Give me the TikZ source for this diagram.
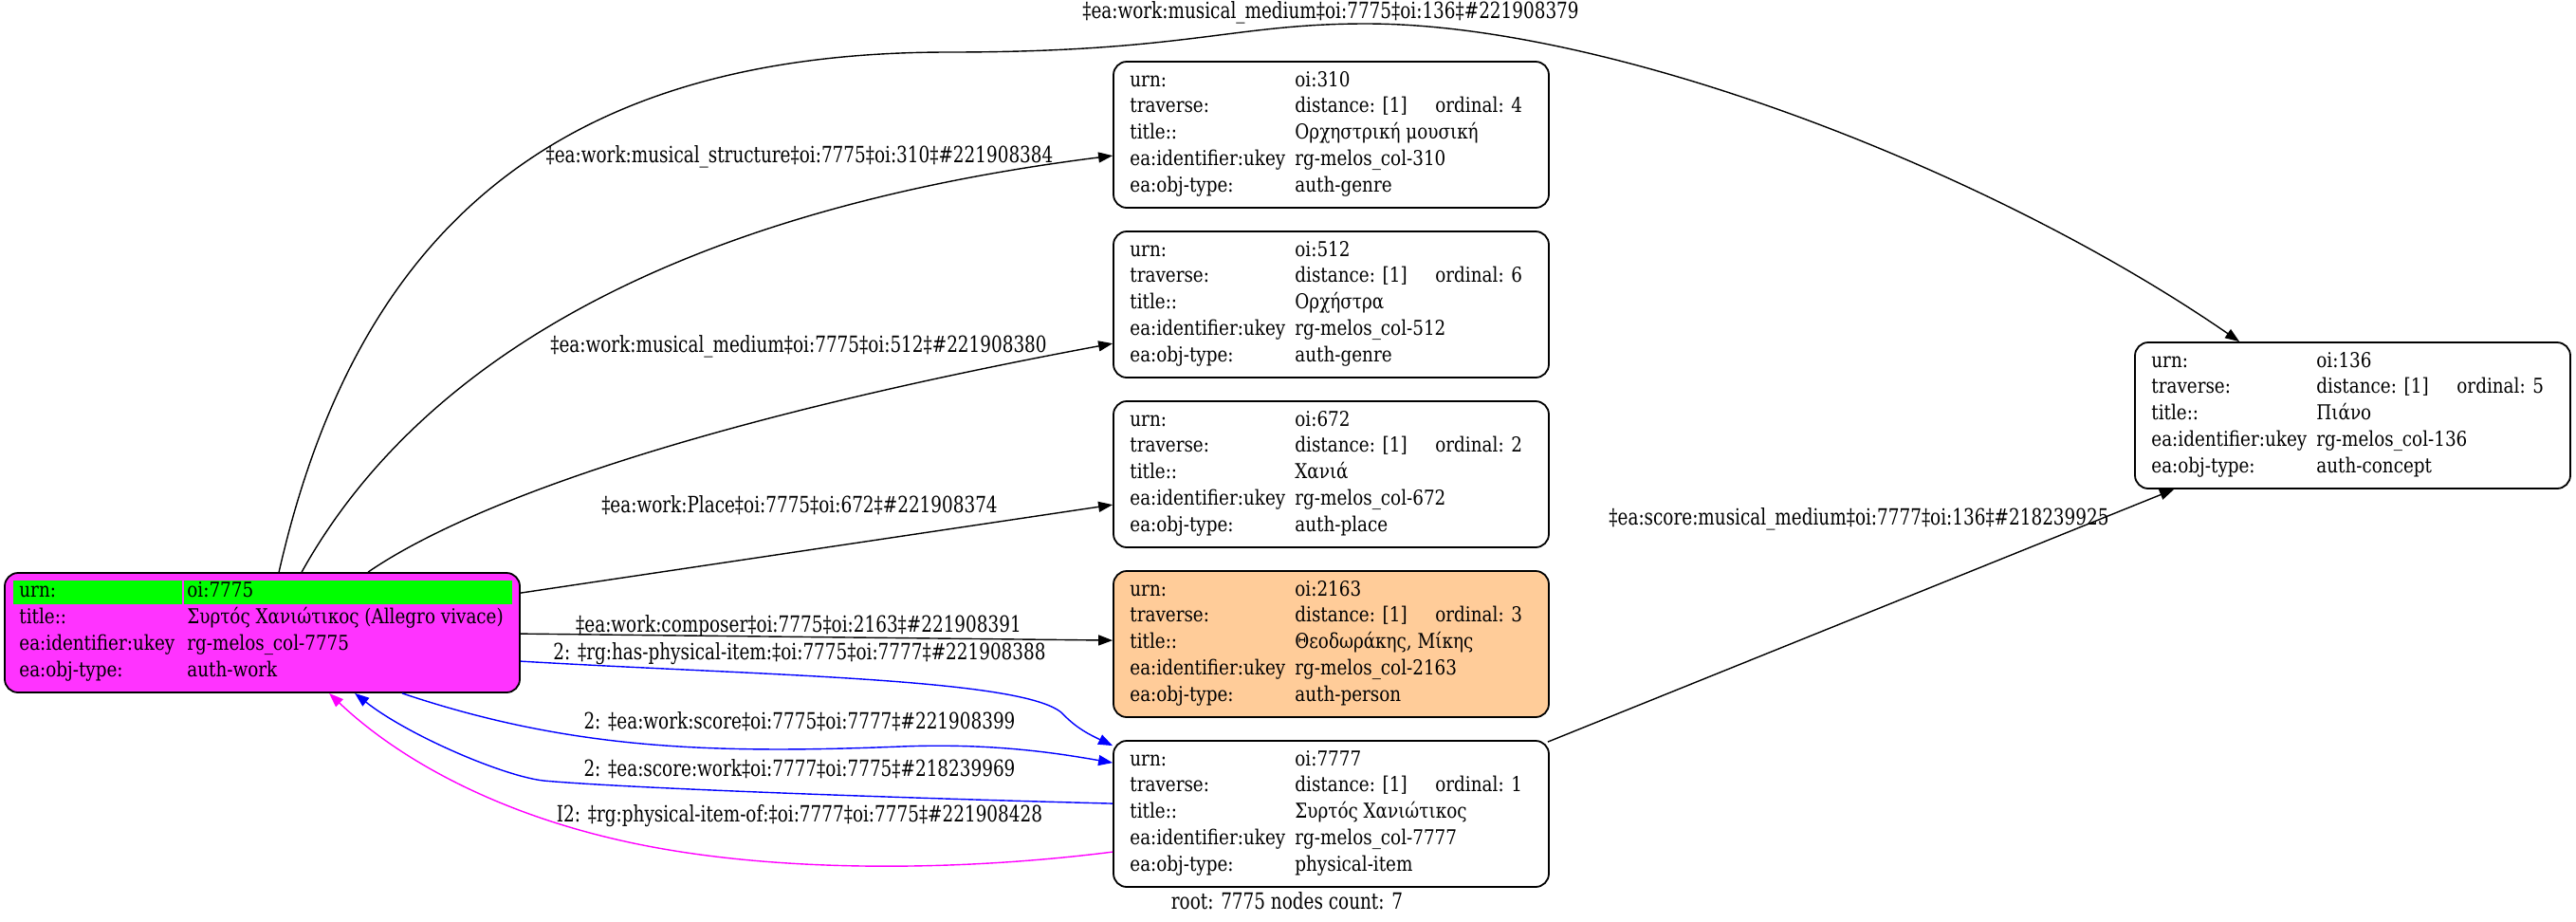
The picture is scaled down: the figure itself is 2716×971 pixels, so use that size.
\documentclass[tikz,border=0pt]{standalone}
\usepackage{fontspec}
\setmainfont{DejaVu Serif}
\newfontfamily\nodefont{DejaVu Serif}[FakeStretch=0.85]
\newfontfamily\edgefont{DejaVu Serif}[FakeStretch=0.78]
\usetikzlibrary{arrows.meta}
\definecolor{rootfill}{RGB}{255,51,255}
\definecolor{urngreen}{RGB}{0,255,0}
\definecolor{personfill}{RGB}{255,204,153}
\definecolor{edgemag}{RGB}{255,0,255}
\definecolor{edgeblue}{RGB}{0,0,255}
\tikzset{
  box/.style={draw=black, line width=0.9pt, rounded corners=7pt, inner sep=0pt},
  ftxt/.style={anchor=base west, inner sep=0pt, font=\nodefont\fontsize{10.8}{13}\selectfont},
  elab/.style={inner sep=0pt, font=\edgefont\fontsize{11.8}{14}\selectfont},
  conn/.style={line width=0.7pt, -{Triangle[length=7.5pt,width=5.5pt]}},
}
% #1 name, #2 left x, #3 top y, #4 urn, #5 ordinal, #6 title, #7 ukey, #8 objtype, #9 fill
\newcommand{\infobox}[9]{%
  \node[box, fill=#9, minimum width=229.5pt, minimum height=77pt] (#1) at (#2+229.5,#3+77) {};
  \node[ftxt] (#1-k1) at (#2+17,#3+26) {urn:};
  \node[ftxt] (#1-v1) at (#2+191,#3+26) {#4};
  \node[ftxt] (#1-k2) at (#2+17,#3+53.8) {traverse:};
  \node[ftxt] (#1-v2) at (#2+191,#3+53.8) {distance: [1]};
  \node[ftxt] (#1-o2) at (#2+339,#3+53.8) {ordinal: #5};
  \node[ftxt] (#1-k3) at (#2+17,#3+81.6) {title::};
  \node[ftxt] (#1-v3) at (#2+191,#3+81.6) {#6};
  \node[ftxt] (#1-k4) at (#2+17,#3+109.4) {ea:identifier:ukey};
  \node[ftxt] (#1-v4) at (#2+191,#3+109.4) {#7};
  \node[ftxt] (#1-k5) at (#2+17,#3+137.2) {ea:obj-type:};
  \node[ftxt] (#1-v5) at (#2+191,#3+137.2) {#8};
}
\begin{document}
\begin{tikzpicture}[x=0.5pt,y=-0.5pt]
\useasboundingbox (0,0) rectangle (2716,971);

% root node
\node[box, fill=rootfill, minimum width=271.5pt, minimum height=63pt] (root) at (276.5,667) {};
\fill[urngreen] (14,612) rectangle (192,637);
\fill[urngreen] (194,612) rectangle (540,637);
\node[ftxt] (root-k1) at (20,629) {urn:};
\node[ftxt] (root-v1) at (197,629) {oi:7775};
\node[ftxt] (root-k2) at (20,657) {title::};
\node[ftxt] (root-v2) at (197,657) {Συρτός Χανιώτικος (Allegro vivace)};
\node[ftxt] (root-k3) at (20,685) {ea:identifier:ukey};
\node[ftxt] (root-v3) at (197,685) {rg-melos\_col-7775};
\node[ftxt] (root-k4) at (20,713) {ea:obj-type:};
\node[ftxt] (root-v4) at (197,713) {auth-work};

\infobox{n310}{1174}{65}{oi:310}{4}{Ορχηστρική μουσική}{rg-melos\_col-310}{auth-genre}{white}
\infobox{n512}{1174}{244}{oi:512}{6}{Ορχήστρα}{rg-melos\_col-512}{auth-genre}{white}
\infobox{n672}{1174}{423}{oi:672}{2}{Χανιά}{rg-melos\_col-672}{auth-place}{white}
\infobox{n2163}{1174}{602}{oi:2163}{3}{Θεοδωράκης, Μίκης}{rg-melos\_col-2163}{auth-person}{personfill}
\infobox{n7777}{1174}{781}{oi:7777}{1}{Συρτός Χανιώτικος}{rg-melos\_col-7777}{physical-item}{white}
\infobox{n136}{2251}{361}{oi:136}{5}{Πιάνο}{rg-melos\_col-136}{auth-concept}{white}

% connectors
\draw[conn] ([xshift=145pt]root.north west) .. controls (370,270) and (560,55) .. (1000,55)
  .. controls (1250,55) and (1300,25) .. (1440,25)
  .. controls (1700,25) and (2100,180) .. ([xshift=55.5pt]n136.north west);
\node[elab] (l1) at (1403,13) {‡ea:work:musical\_medium‡oi:7775‡oi:136‡\#221908379};

\draw[conn] ([xshift=157pt]root.north west) .. controls (420,420) and (650,230) .. ([yshift=-50pt]n310.north west);
\node[elab] (l2) at (843,165) {‡ea:work:musical\_structure‡oi:7775‡oi:310‡\#221908384};

\draw[conn] ([xshift=192pt]root.north west) .. controls (480,540) and (700,450) .. ([yshift=-59.5pt]n512.north west);
\node[elab] (l3) at (842,365) {‡ea:work:musical\_medium‡oi:7775‡oi:512‡\#221908380};

\draw[conn] ([yshift=-11pt]root.north east) -- ([yshift=-55pt]n672.north west);
\node[elab] (l4) at (843,533) {‡ea:work:Place‡oi:7775‡oi:672‡\#221908374};

\draw[conn] ([yshift=-32.5pt]root.north east) -- ([yshift=-37pt]n2163.north west);
\node[elab] (l5) at (842,660) {‡ea:work:composer‡oi:7775‡oi:2163‡\#221908391};

\draw[conn, edgeblue] ([yshift=-47pt]root.north east) .. controls (800,712) and (1080,715) .. (1120,752)
  .. controls (1135,768) and (1150,775) .. ([yshift=-3pt]n7777.north west);
\node[elab] (l6) at (843,689) {2: ‡rg:has-physical-item:‡oi:7775‡oi:7777‡\#221908388};

\draw[conn, edgeblue] ([xshift=210pt]root.south west) .. controls (600,790) and (750,795) .. (950,787)
  .. controls (1050,783) and (1120,795) .. ([yshift=-12pt]n7777.north west);
\node[elab] (l7) at (843,761) {2: ‡ea:work:score‡oi:7775‡oi:7777‡\#221908399};

\draw[conn, edgeblue] ([yshift=-33.5pt]n7777.north west) .. controls (900,840) and (650,830) .. (573,823)
  .. controls (530,818) and (430,775) .. ([xshift=185pt]root.south west);
\node[elab] (l8) at (843,811) {2: ‡ea:score:work‡oi:7777‡oi:7775‡\#218239969};

\draw[conn, edgemag] ([yshift=-59pt]n7777.north west) .. controls (1000,920) and (800,920) .. (650,885)
  .. controls (520,855) and (420,800) .. ([xshift=171.5pt]root.south west);
\node[elab] (l9) at (843,860) {I2: ‡rg:physical-item-of:‡oi:7777‡oi:7775‡\#221908428};

\draw[conn] ([xshift=-1pt,yshift=-1pt]n7777.north east) -- ([xshift=21pt]n136.south west);
\node[elab] (l10) at (1960,547) {‡ea:score:musical\_medium‡oi:7777‡oi:136‡\#218239925};

\node[elab] (caption) at (1357,950) {root: 7775 nodes count: 7};
\end{tikzpicture}
\end{document}
